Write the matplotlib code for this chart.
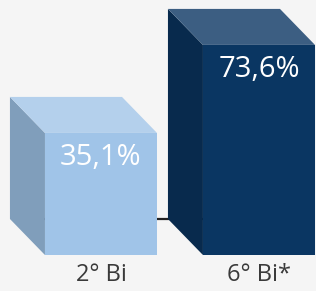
import matplotlib
matplotlib.use('Agg')
import matplotlib.pyplot as plt
from matplotlib.patches import Polygon
from matplotlib import font_manager

categories = ['2° Bi', '6° Bi*']
values = [35.1, 73.6]
value_labels = ['35,1%', '73,6%']
front_colors = ['#A0C4E8', '#0A3662']
side_colors = ['#809EBB', '#082A4D']
top_colors = ['#B4D0EC', '#3C5E82']


def pick_font(cands):
    for c in cands:
        try:
            font_manager.findfont(c, fallback_to_default=False)
            return c
        except Exception:
            pass
    return 'DejaVu Sans'


FONT = pick_font(['Liberation Sans Narrow', 'Open Sans', 'Liberation Sans'])

floor = -18.3
width = 0.709
ddx = 0.2215
ddy = 15.75

fig = plt.figure(figsize=(3.16, 2.91), dpi=100)
fig.patch.set_facecolor('#F5F5F5')
ax = fig.add_axes([0, 0, 1, 1])
ax.set_facecolor('#F5F5F5')
ax.set_xlim(-0.639, 1.361)
ax.set_ylim(-34.05, 93.25)
ax.axis('off')

# back floor line
ax.plot([-0.5, 1.2], [floor + ddy, floor + ddy], color='#222222', lw=1.6, zorder=1)

for i, v in enumerate(values):
    x0, x1 = i - width / 2, i + width / 2
    front = Polygon([(x0, floor), (x1, floor), (x1, v), (x0, v)], closed=True,
                    facecolor=front_colors[i], edgecolor='none', zorder=3)
    side = Polygon([(x0 - ddx, floor + ddy), (x0, floor), (x0, v), (x0 - ddx, v + ddy)],
                   closed=True, facecolor=side_colors[i], edgecolor='none', zorder=3)
    top = Polygon([(x0 - ddx, v + ddy), (x1 - ddx, v + ddy), (x1, v), (x0, v)],
                  closed=True, facecolor=top_colors[i], edgecolor='none', zorder=3)
    for p in (side, top, front):
        ax.add_patch(p)
    ax.annotate(value_labels[i], (i, v), xytext=(0, -18), textcoords='offset points',
                ha='center', va='center', color='white', fontsize=21,
                family=FONT, zorder=5)
    ax.annotate(categories[i], (i, floor), xytext=(0, -14.5), textcoords='offset points',
                ha='center', va='center', color='#3A3A3A', fontsize=17,
                family=FONT, zorder=5)

fig.savefig('out.png', dpi=100, facecolor=fig.get_facecolor())
